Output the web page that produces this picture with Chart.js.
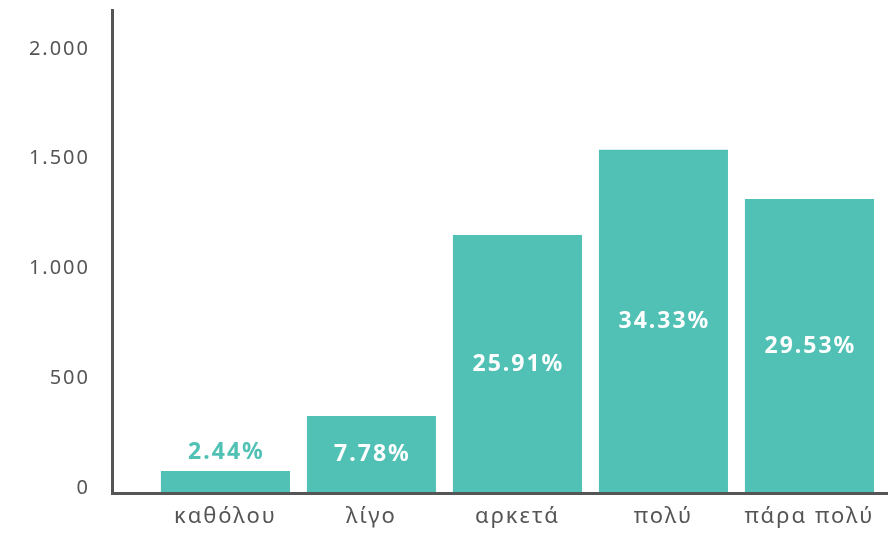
<!DOCTYPE html>
<html>
<head>
<meta charset="utf-8">
<script src="https://cdn.jsdelivr.net/npm/chart.js@4"></script>
<style>
  html, body { margin: 0; padding: 0; background: #fff; }
  #wrap { width: 888px; height: 533px; }
</style>
</head>
<body>
<div id="wrap"><canvas id="chart"></canvas></div>
<script>
const categories = ['καθόλου', 'λίγο', 'αρκετά', 'πολύ', 'πάρα πολύ'];
const counts = [100, 351, 1175, 1563, 1339];
const percentLabels = ['2.44%', '7.78%', '25.91%', '34.33%', '29.53%'];
const yTicks = [0, 500, 1000, 1500, 2000];
const yTickLabels = ['0', '500', '1.000', '1.500', '2.000'];

const TEAL = '#52c1b5';
const GREY = '#555555';

// wide lettering like the original font
const spacingPlugin = {
    id: 'spacing',
    beforeLayout(chart) { chart.ctx.letterSpacing = '2px'; },
    beforeDraw(chart) { chart.ctx.letterSpacing = '2px'; }
};

// percentages inside the bars (or above when the bar is too short)
const percentPlugin = {
    id: 'percentLabels',
    afterDatasetsDraw(chart) {
        const ctx = chart.ctx;
        const bars = chart.getDatasetMeta(0).data;
        ctx.save();
        ctx.font = 'bold 23px "Noto Sans"';
        ctx.textAlign = 'center';
        ctx.textBaseline = 'middle';
        bars.forEach((bar, i) => {
            const h = bar.base - bar.y;
            if (h > 40) {
                ctx.fillStyle = '#ffffff';
                ctx.fillText(percentLabels[i], bar.x + 1, bar.y + h / 2);
            } else {
                ctx.fillStyle = TEAL;
                ctx.fillText(percentLabels[i], bar.x + 1, bar.y - 19);
            }
        });
        ctx.restore();
    }
};

const config = {
    type: 'bar',
    data: {
        datasets: [{
            data: categories.map((c, i) => ({ x: i, y: counts[i] })),
            backgroundColor: TEAL,
            borderWidth: 0,
            categoryPercentage: 1,
            barPercentage: 0.884
        }]
    },
    options: {
        responsive: true,
        maintainAspectRatio: false,
        animation: false,
        layout: { padding: { top: 10, right: 0, bottom: 0, left: 0 } },
        plugins: {
            legend: { display: false },
            tooltip: { enabled: false }
        },
        scales: {
            x: {
                type: 'linear',
                min: -0.777,
                max: 4.538,
                offset: false,
                grid: { display: false, offset: false, drawTicks: false },
                border: { display: true, color: GREY, width: 3, z: 1 },
                ticks: {
                    stepSize: 1,
                    includeBounds: false,
                    autoSkip: false,
                    maxRotation: 0,
                    padding: 11,
                    color: GREY,
                    font: { family: '"Noto Sans"', size: 22 },
                    callback: (v) => categories[v] ?? ''
                },
                afterFit: (s) => { s.height = 40; s.paddingLeft = 0; s.paddingRight = 0; }
            },
            y: {
                min: 0,
                max: 2200,
                grid: { display: false, drawTicks: false },
                border: { display: true, color: GREY, width: 3 },
                ticks: {
                    autoSkip: false,
                    padding: 22,
                    labelOffset: -5,
                    color: GREY,
                    font: { family: '"Noto Sans"', size: 20 },
                    callback: (v) => yTickLabels[yTicks.indexOf(v)] ?? ''
                },
                afterBuildTicks: (s) => { s.ticks = yTicks.map(v => ({ value: v })); },
                afterFit: (s) => { s.width = 112; s.paddingTop = 0; s.paddingBottom = 0; }
            }
        }
    },
    plugins: [spacingPlugin, percentPlugin]
};

new Chart(document.getElementById('chart'), config);
</script>
</body>
</html>
